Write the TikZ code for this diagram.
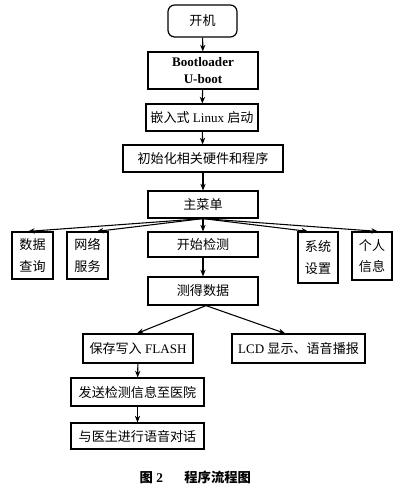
\documentclass[tikz,border=0pt]{standalone}
\usepackage{fontspec}
\setmainfont{Liberation Serif}
\newfontfamily\cjk{Noto Sans CJK SC}
\usetikzlibrary{arrows.meta}
\begin{document}
\begin{tikzpicture}[x=0.75pt,y=-0.75pt,
  box/.style={draw,line width=0.9pt,inner sep=0pt,align=center,font=\fontsize{9.8}{16}\selectfont},
  arr/.style={line width=0.8pt,-{Stealth[length=5pt,width=4pt]}}]
\useasboundingbox (0,0) rectangle (400,495);
\node[box,rounded corners=5pt,minimum width=51.75pt,minimum height=24pt] (kaiji) at (202.5,21) {\cjk 开机};
\node[box,font=\fontsize{9.8}{12.5}\selectfont,minimum width=82.5pt,minimum height=27.75pt] (boot) at (203,70.5) {\bfseries Bootloader\\\bfseries U-boot};
\node[box,minimum width=84pt,minimum height=20.25pt] (linux) at (202,117.5) {{\cjk 嵌入式} Linux {\cjk 启动}};
\node[box,minimum width=120pt,minimum height=20.25pt] (init) at (203,158.5) {\cjk 初始化相关硬件和程序};
\node[box,minimum width=82.5pt,minimum height=20.25pt] (menu) at (203,204.5) {\cjk 主菜单};
\node[box,minimum width=30.75pt,minimum height=35.25pt] (query) at (32.5,255.5) {\cjk 数据\\\cjk 查询};
\node[box,minimum width=30.75pt,minimum height=35.25pt] (net) at (87.5,255.5) {\cjk 网络\\\cjk 服务};
\node[box,minimum width=82.5pt,minimum height=18.75pt] (start) at (203,244.5) {\cjk 开始检测};
\node[box,minimum width=30pt,minimum height=38.25pt] (sys) at (318,257.5) {\cjk 系统\\\cjk 设置};
\node[box,minimum width=30pt,minimum height=36pt] (info) at (372,256) {\cjk 个人\\\cjk 信息};
\node[box,minimum width=82.5pt,minimum height=21pt] (meas) at (203,291) {\cjk 测得数据};
\node[box,minimum width=82.5pt,minimum height=21.75pt] (save) at (138,348.5) {{\cjk 保存写入} FLASH};
\node[box,minimum width=99.75pt,minimum height=21.75pt] (lcd) at (298.5,348.5) {LCD {\cjk 显示、语音播报}};
\node[box,minimum width=99.75pt,minimum height=21pt] (send) at (137.5,392) {\cjk 发送检测信息至医院};
\node[box,minimum width=99.75pt,minimum height=19.5pt] (talk) at (137.5,436) {\cjk 与医生进行语音对话};
\node[font=\fontsize{10}{12}\selectfont\bfseries,anchor=west] (cap) at (135,477) {{\cjk 图} 2\hspace{1.6em}{\cjk 程序流程图}};
\draw[arr] (kaiji) -- (boot);
\draw[arr] (boot) -- (linux);
\draw[arr] (linux) -- (init);
\draw[arr] (init) -- (menu);
\draw[arr] (menu.south) -- ([xshift=-3.4pt]query.north);
\draw[arr] (menu.south) -- ([xshift=7pt]net.north);
\draw[arr] (menu.south) -- (start.north);
\draw[arr] (menu.south) -- ([xshift=-7.5pt]sys.north);
\draw[arr] (menu.south) -- ([xshift=4.5pt]info.north);
\draw[arr] (start) -- (meas);
\draw[arr] ([xshift=2.25pt]meas.south) -- ([xshift=-0.75pt]save.north);
\draw[arr] ([xshift=2.25pt]meas.south) -- ([xshift=-10pt]lcd.north);
\draw[arr] (save) -- (send);
\draw[arr] (send) -- (talk);
\end{tikzpicture}
\end{document}
